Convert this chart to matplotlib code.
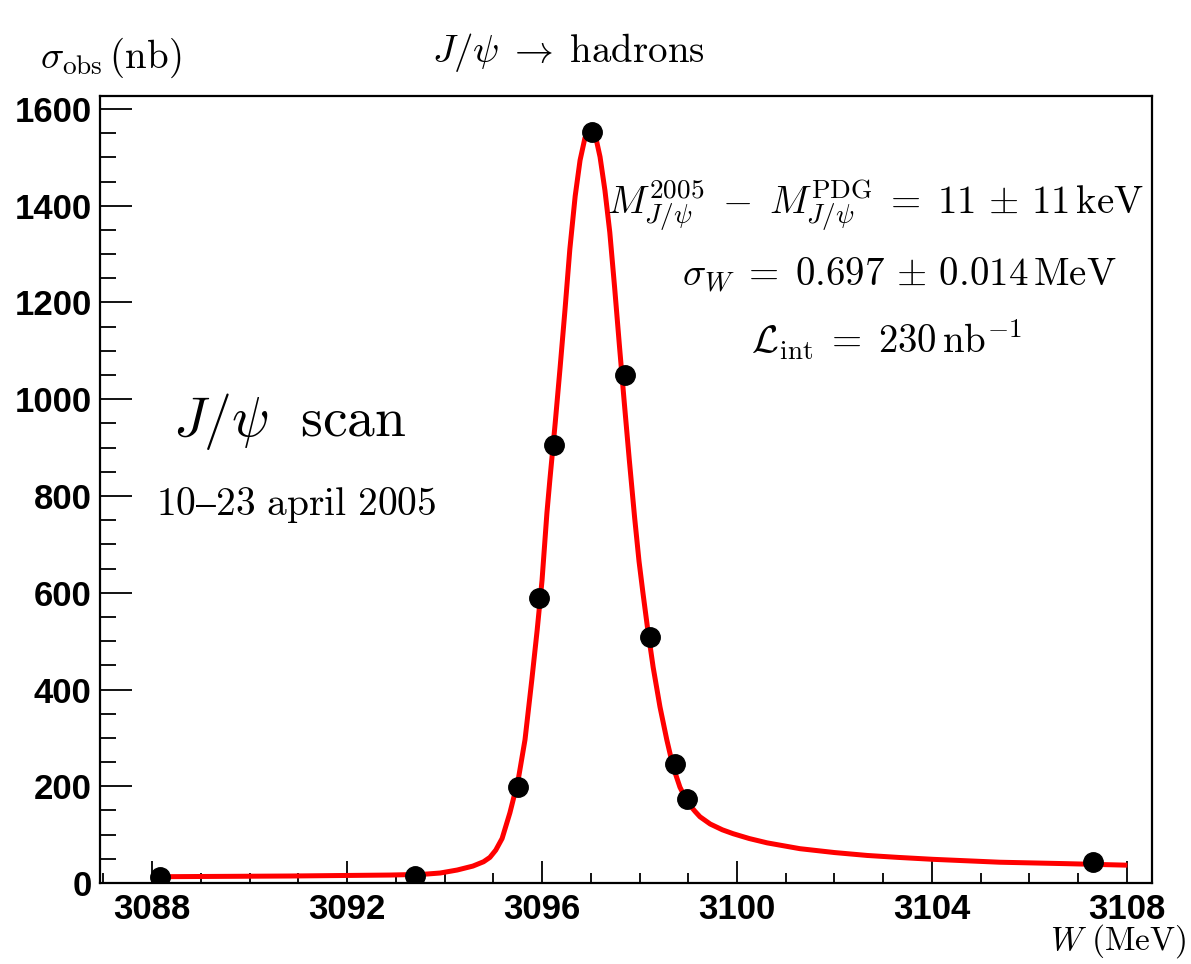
import matplotlib.pyplot as plt
from matplotlib.ticker import MultipleLocator

plt.rcParams['mathtext.fontset'] = 'cm'
plt.rcParams['font.family'] = ['Liberation Sans', 'DejaVu Sans']

# measured points
w_pts = [3088.16, 3093.39, 3095.50, 3095.94, 3096.25, 3097.02,
         3097.70, 3098.22, 3098.73, 3098.98, 3107.30]
sig_pts = [13, 15, 198, 590, 905, 1553, 1051, 509, 245, 174, 43]

# fitted curve
w_fit = [3088.06, 3090.83, 3092.88, 3093.56, 3093.91, 3094.26, 3094.58,
         3094.80, 3094.93, 3095.05, 3095.18, 3095.34, 3095.51, 3095.65,
         3095.79, 3095.90, 3096.00, 3096.10, 3096.16, 3096.27, 3096.37,
         3096.47, 3096.57, 3096.68, 3096.78, 3096.88, 3097.00, 3097.09,
         3097.19, 3097.29, 3097.39, 3097.49, 3097.59, 3097.69, 3097.79,
         3097.90, 3097.99, 3098.07, 3098.17, 3098.28, 3098.42, 3098.56,
         3098.69, 3098.83, 3098.94, 3099.04, 3099.14, 3099.24, 3099.45,
         3099.70, 3099.92, 3100.25, 3100.62, 3101.29, 3102.00, 3102.67,
         3103.30, 3104.02, 3105.39, 3106.77, 3107.96]
sig_fit = [13, 14.5, 16.5, 18, 20.7, 26.9, 35, 44, 53, 68, 92, 145, 213,
           296, 420, 523, 626, 765, 833, 951, 1065, 1184, 1310, 1420, 1494,
           1540, 1561, 1547, 1501, 1432, 1345, 1230, 1108, 990, 875, 755, 665,
           600, 523, 446, 364, 296, 240, 198, 176, 160, 148, 137, 122, 110,
           102, 92, 83, 71, 63, 57, 53, 49, 43, 40, 37]

fig = plt.figure(figsize=(11.91, 9.64), dpi=100)
ax = fig.add_axes([0.084, 0.084, 0.883, 0.8165])

ax.plot(w_fit, sig_fit, color='red', lw=3.6, zorder=2, solid_joinstyle='round')
ax.plot(w_pts, sig_pts, 'o', color='black', ms=14, zorder=3)

ax.set_xlim(3086.93, 3108.51)
ax.set_ylim(0, 1627)
ax.xaxis.set_major_locator(MultipleLocator(4))
ax.xaxis.set_minor_locator(MultipleLocator(1))
ax.yaxis.set_major_locator(MultipleLocator(200))
ax.yaxis.set_minor_locator(MultipleLocator(50))

for s in ax.spines.values():
    s.set_linewidth(1.6)
ax.tick_params(axis='x', which='major', direction='in', length=16, width=1.3, pad=7,
               labelsize=25)
ax.tick_params(axis='x', which='minor', direction='in', length=7.5, width=1.3)
ax.tick_params(axis='y', which='major', direction='in', length=23, width=1.3, pad=6,
               labelsize=25)
ax.tick_params(axis='y', which='minor', direction='in', length=11.5, width=1.3)
for lab in ax.get_xticklabels() + ax.get_yticklabels():
    lab.set_fontweight('bold')

fig.text(40/1191, 1 - 58/964, r'$\sigma_{\mathrm{obs}}\,(\mathrm{nb})$', fontsize=28,
         ha='left', va='center')
fig.text(568/1191, 1 - 52/964, r'$J/\psi \;\rightarrow\; \mathrm{hadrons}$', fontsize=28,
         ha='center', va='center')
fig.text(1186/1191, 1 - 950/964, r'$W\ (\mathrm{MeV})$', fontsize=24,
         ha='right', va='baseline')

fig.text(876/1191, 1 - 205/964,
         r'$M_{J/\psi}^{2005} \;-\; M_{J/\psi}^{\mathrm{PDG}} \;=\; 11 \,\pm\, 11\,\mathrm{keV}$',
         fontsize=28, ha='center', va='center')
fig.text(899/1191, 1 - 275/964, r'$\sigma_W \;=\; 0.697 \,\pm\, 0.014\,\mathrm{MeV}$',
         fontsize=28, ha='center', va='center')
fig.text(886/1191, 1 - 340/964, r'$\mathcal{L}_{\mathrm{int}} \;=\; 230\,\mathrm{nb}^{-1}$',
         fontsize=28, ha='center', va='center')

fig.text(290/1191, 1 - 422/964, r'$J/\psi\ \ \mathrm{scan}$', fontsize=40,
         ha='center', va='center')
fig.text(296/1191, 1 - 505/964, r'$\mathrm{10' + '\u2013' + r'23\ april\ 2005}$',
         fontsize=28.5, ha='center', va='center')

fig.savefig('out.png', dpi=100)
